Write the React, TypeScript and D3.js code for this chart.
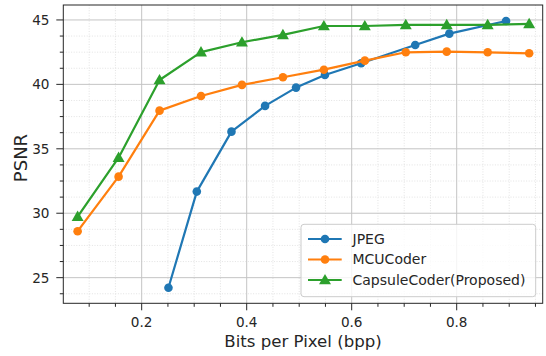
import React, { useRef, useEffect } from 'react';
import * as d3 from 'd3';

// datos
const jpegBpp = [0.251, 0.305, 0.371, 0.435, 0.494, 0.549, 0.618, 0.721, 0.786, 0.894];
const jpegPsnr = [24.22, 31.68, 36.33, 38.33, 39.75, 40.73, 41.64, 43.06, 43.94, 44.92];

const codecBpp = [0.078, 0.156, 0.234, 0.313, 0.391, 0.469, 0.547, 0.625, 0.703, 0.781, 0.859, 0.938];
const mcuPsnr = [28.6, 32.84, 37.96, 39.1, 39.96, 40.55, 41.14, 41.84, 42.49, 42.54, 42.49, 42.41];
const capsulePsnr = [29.73, 34.31, 40.34, 42.5, 43.27, 43.84, 44.53, 44.53, 44.61, 44.61, 44.61, 44.69];

const xTicks = [0.2, 0.4, 0.6, 0.8];
const yTicks = [25, 30, 35, 40, 45];

const series = [
    { name: "JPEG", color: "#1f77b4", marker: "circle", x: jpegBpp, y: jpegPsnr },
    { name: "MCUCoder", color: "#ff7f0e", marker: "circle", x: codecBpp, y: mcuPsnr },
    { name: "CapsuleCoder(Proposed)", color: "#2ca02c", marker: "triangle", x: codecBpp, y: capsulePsnr },
];

const W = 546;
const H = 356;

const App = () => {
    const ref = useRef(null);

    useEffect(() => {
        if (!ref.current) return;
        const svg = d3.select(ref.current);
        svg.selectAll("*").remove();

        const left = 63.3, right = 542.7, top = 5, bottom = 303.3;
        const x = d3.scaleLinear().domain([0.0507, 0.9638]).range([left, right]);
        const y = d3.scaleLinear().domain([23.01, 46.16]).range([bottom, top]);
        const font = "DejaVu Sans";

        svg.append("rect").attr("width", W).attr("height", H).attr("fill", "white");

        // rejilla menor (punteada)
        const xMinor = d3.range(0.1, 0.96, 0.05).filter(v => !xTicks.some(t => Math.abs(t - v) < 1e-6));
        const yMinor = d3.range(23.75, 46.2, 1.25).filter(v => !yTicks.some(t => Math.abs(t - v) < 1e-6));
        const grid = svg.append("g");
        xMinor.forEach(v => grid.append("line")
            .attr("x1", x(v)).attr("x2", x(v)).attr("y1", top).attr("y2", bottom)
            .attr("stroke", "#dcdcdc").attr("stroke-width", 0.8).attr("stroke-dasharray", "1,1.6"));
        yMinor.forEach(v => grid.append("line")
            .attr("y1", y(v)).attr("y2", y(v)).attr("x1", left).attr("x2", right)
            .attr("stroke", "#dcdcdc").attr("stroke-width", 0.8).attr("stroke-dasharray", "1,1.6"));
        // rejilla mayor
        xTicks.forEach(v => grid.append("line")
            .attr("x1", x(v)).attr("x2", x(v)).attr("y1", top).attr("y2", bottom)
            .attr("stroke", "#c4c4c4").attr("stroke-width", 1));
        yTicks.forEach(v => grid.append("line")
            .attr("y1", y(v)).attr("y2", y(v)).attr("x1", left).attr("x2", right)
            .attr("stroke", "#c4c4c4").attr("stroke-width", 1));

        // lineas y marcadores
        const line = d3.line();
        const tri = d3.symbol().type(d3.symbolTriangle).size(62);
        series.forEach(s => {
            const pts = s.x.map((v, i) => [x(v), y(s.y[i])]);
            const g = svg.append("g");
            g.append("path")
                .attr("d", line(pts))
                .attr("fill", "none")
                .attr("stroke", s.color)
                .attr("stroke-width", 2.2)
                .attr("stroke-linejoin", "round")
                .attr("stroke-linecap", "square");
            pts.forEach(p => {
                if (s.marker === "circle") {
                    g.append("circle").attr("cx", p[0]).attr("cy", p[1]).attr("r", 4.3).attr("fill", s.color);
                } else {
                    g.append("path").attr("d", tri()).attr("transform", `translate(${p[0]},${p[1] + 0.8})`).attr("fill", s.color);
                }
            });
        });

        // marco
        svg.append("rect")
            .attr("x", left).attr("y", top)
            .attr("width", right - left).attr("height", bottom - top)
            .attr("fill", "none").attr("stroke", "#262626").attr("stroke-width", 1);

        // marcas de los ejes
        const axes = svg.append("g").attr("stroke", "#262626").attr("stroke-width", 1);
        xTicks.forEach(v => axes.append("line").attr("x1", x(v)).attr("x2", x(v)).attr("y1", bottom).attr("y2", bottom + 7));
        xMinor.forEach(v => axes.append("line").attr("x1", x(v)).attr("x2", x(v)).attr("y1", bottom).attr("y2", bottom + 3.5));
        yTicks.forEach(v => axes.append("line").attr("y1", y(v)).attr("y2", y(v)).attr("x1", left).attr("x2", left - 7));
        yMinor.forEach(v => axes.append("line").attr("y1", y(v)).attr("y2", y(v)).attr("x1", left).attr("x2", left - 3.5));

        xTicks.forEach(v => svg.append("text")
            .attr("x", x(v)).attr("y", 326.8)
            .attr("text-anchor", "middle")
            .style("font-family", font).style("font-size", "13.6px").attr("fill", "#262626")
            .text(d3.format(".1f")(v)));
        yTicks.forEach(v => svg.append("text")
            .attr("x", 49.5).attr("y", y(v) + 5)
            .attr("text-anchor", "end")
            .style("font-family", font).style("font-size", "13.6px").attr("fill", "#262626")
            .text(v));

        svg.append("text")
            .attr("x", (left + right) / 2).attr("y", 346.8)
            .attr("text-anchor", "middle")
            .style("font-family", font).style("font-size", "16.6px").attr("fill", "#262626")
            .text("Bits per Pixel (bpp)");
        svg.append("text")
            .attr("transform", `translate(26.5,158) rotate(-90)`)
            .attr("text-anchor", "middle")
            .style("font-family", font).style("font-size", "18px").attr("fill", "#262626")
            .text("PSNR");

        // leyenda
        const lg = svg.append("g").attr("transform", "translate(301,224.3)");
        lg.append("rect")
            .attr("width", 234.7).attr("height", 72.4).attr("rx", 3)
            .attr("fill", "white").attr("fill-opacity", 0.8)
            .attr("stroke", "#cccccc").attr("stroke-width", 1);
        series.forEach((s, i) => {
            const cy = 14.7 + i * 20.5;
            lg.append("line").attr("x1", 7).attr("x2", 40.7).attr("y1", cy).attr("y2", cy)
                .attr("stroke", s.color).attr("stroke-width", 2.2);
            if (s.marker === "circle") {
                lg.append("circle").attr("cx", 24).attr("cy", cy).attr("r", 4.3).attr("fill", s.color);
            } else {
                lg.append("path").attr("d", tri()).attr("transform", `translate(24,${cy + 0.8})`).attr("fill", s.color);
            }
            lg.append("text")
                .attr("x", 51.5).attr("y", cy + 5)
                .style("font-family", font).style("font-size", "14px").attr("fill", "#262626")
                .text(s.name);
        });
    }, []);

    return <svg ref={ref} width={W} height={H} style={{ position: "absolute", left: 0, top: 0 }} />;
};

export default App;
